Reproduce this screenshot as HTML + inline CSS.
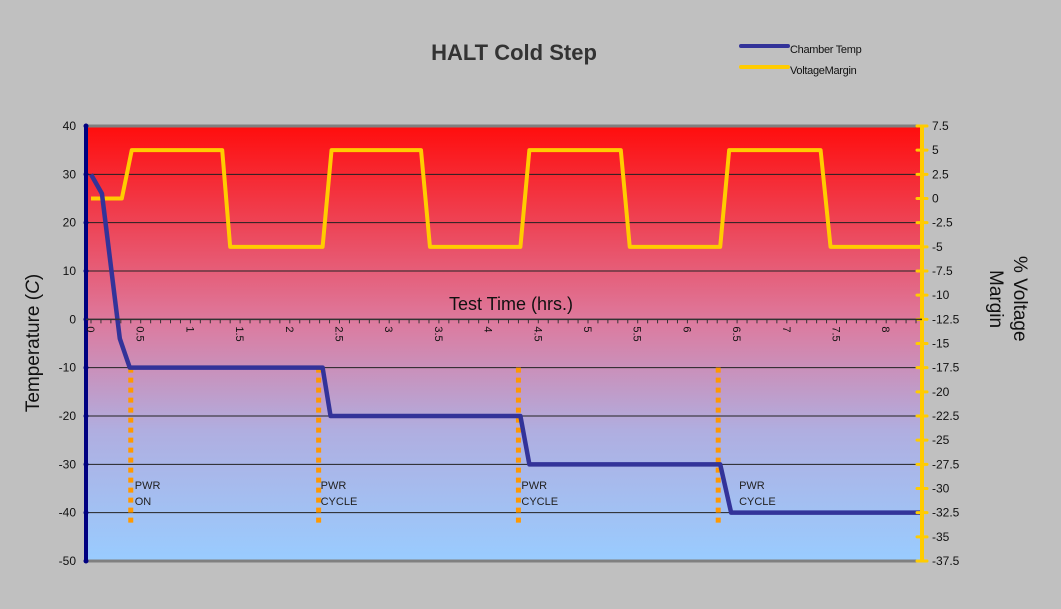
<!DOCTYPE html>
<html><head><meta charset="utf-8">
<style>
html,body{margin:0;padding:0;background:#c0c0c0;}
svg{display:block;font-family:"Liberation Sans",sans-serif;}
</style></head>
<body>
<svg id="chart" width="1061" height="609" viewBox="0 0 1061 609" xmlns="http://www.w3.org/2000/svg">
<defs>
<linearGradient id="bg" x1="0" y1="0" x2="0" y2="1">
<stop offset="0" stop-color="#ff0d0d"/>
<stop offset="0.45" stop-color="#dd7a9e"/>
<stop offset="0.7" stop-color="#b0aee0"/>
<stop offset="1" stop-color="#99ccff"/>
</linearGradient>
</defs>
<rect x="0" y="0" width="1061" height="609" fill="#c0c0c0"/>
<rect x="86" y="126" width="836" height="435" fill="url(#bg)"/>
<line x1="86" y1="126" x2="922" y2="126" stroke="#808080" stroke-width="3"/>
<line x1="86" y1="561" x2="922" y2="561" stroke="#808080" stroke-width="3"/>
<g id="grid"></g>
<g id="marks"></g>
<g id="axes"></g>
<text x="514" y="60" text-anchor="middle" font-size="22" font-weight="bold" fill="#333">HALT Cold Step</text>
<line x1="741" y1="46" x2="788" y2="46" stroke="#333399" stroke-width="4" stroke-linecap="round"/>
<text x="790" y="53" font-size="11" fill="#111" letter-spacing="-0.3">Chamber Temp</text>
<line x1="741" y1="67" x2="788" y2="67" stroke="#ffcc00" stroke-width="4" stroke-linecap="round"/>
<text x="790" y="74" font-size="11" fill="#111" letter-spacing="-0.3">VoltageMargin</text>
<text transform="translate(39,343) rotate(-90)" text-anchor="middle" font-size="19" fill="#111">Temperature (<tspan font-style="italic">C</tspan>)</text>
<text x="511" y="310" text-anchor="middle" font-size="18" fill="#111">Test Time (hrs.)</text>
<text transform="translate(1014,256) rotate(90)" font-size="19" fill="#111">% Voltage</text>
<text transform="translate(990,270) rotate(90)" font-size="19" fill="#111">Margin</text>
<script>
const timeTemp = [0, 0.11, 0.29, 0.39, 2.33, 2.41, 4.32, 4.41, 6.33, 6.44, 8.36];
const tempValues = [30, 26, -4, -10, -10, -20, -20, -30, -30, -40, -40];
const timeVolt = [0, 0.31, 0.41, 1.32, 1.40, 2.33, 2.42, 3.32, 3.41, 4.32, 4.41, 5.33, 5.42, 6.33, 6.42, 7.34, 7.44, 8.36];
const voltValues = [0, 0, 5, 5, -5, -5, 5, 5, -5, -5, 5, 5, -5, -5, 5, 5, -5, -5];
const eventTimes = [0.40, 2.29, 4.30, 6.31];
const eventLabels = [["PWR","ON"],["PWR","CYCLE"],["PWR","CYCLE"],["PWR","CYCLE"]];
const eventLabelTimes = [0.44, 2.31, 4.33, 6.52];
const leftTicks = [40,30,20,10,0,-10,-20,-30,-40,-50];
const rightTicks = [7.5,5,2.5,0,-2.5,-5,-7.5,-10,-12.5,-15,-17.5,-20,-22.5,-25,-27.5,-30,-32.5,-35,-37.5];
const xLabels = ["0","0.5","1","1.5","2","2.5","3","3.5","4","4.5","5","5.5","6","6.5","7","7.5","8"];

const NS="http://www.w3.org/2000/svg";
const xS = t => 91 + t*99.4;
const yL = v => 126 + (40 - v)*(435/90);
const yR = v => 126 + (7.5 - v)*(435/45);
function mk(tag, attrs, parent){const e=document.createElementNS(NS,tag);for(const k in attrs)e.setAttribute(k,attrs[k]);parent.appendChild(e);return e;}
const grid=document.getElementById('grid'), marks=document.getElementById('marks'), axes=document.getElementById('axes');

leftTicks.forEach(v=>{
  if(v<40 && v>-50){
    const g=mk('line',{x1:86,x2:922,y1:yL(v),y2:yL(v),stroke:'#222','stroke-width':1},grid);
    
    
  }
  const t=mk('text',{x:76,y:yL(v)+4,'text-anchor':'end','font-size':12,fill:'#111'},axes);
  t.textContent=v;
  
  
  const c=mk('circle',{cx:86,cy:yL(v),r:2.5,fill:'#000080'},axes);
  
  
});
const la=mk('line',{x1:86,x2:86,y1:126,y2:561,stroke:'#000080','stroke-width':4},axes);


const ra=mk('line',{x1:922,x2:922,y1:126,y2:561,stroke:'#ffcc00','stroke-width':4},axes);


rightTicks.forEach(v=>{
  const c=mk('line',{x1:917,x2:927,y1:yR(v),y2:yR(v),stroke:'#ffcc00','stroke-width':3,'stroke-linecap':'round'},axes);
  
  
  const t=mk('text',{x:932,y:yR(v)+4,'font-size':12,fill:'#111'},axes);
  t.textContent=(v>0?'':'')+v;
  
  
});
// x axis at temp 0
const xa=mk('line',{x1:86,x2:922,y1:yL(0),y2:yL(0),stroke:'#333','stroke-width':1.5},axes);


for(let i=0;i<=83;i++){
  const tk=mk('line',{x1:xS(i*0.1),x2:xS(i*0.1),y1:yL(0),y2:yL(0)+4,stroke:'#333','stroke-width':1},axes);
  
  
}
xLabels.forEach((s,i)=>{
  const x=xS(i*0.5);
  const t=mk('text',{transform:`translate(${x-4},${yL(0)+7}) rotate(90)`,'font-size':11,fill:'#111'},axes);
  t.textContent=s;
  
  
});
eventTimes.forEach((tm,i)=>{
  const l=mk('line',{x1:xS(tm),x2:xS(tm),y1:yL(-10),y2:yL(-42.5),stroke:'#ff9900','stroke-width':5,'stroke-dasharray':'5 5'},marks);
  
  
  eventLabels[i].forEach((s,j)=>{
    const t=mk('text',{x:xS(eventLabelTimes[i]),y:489+j*16,'font-size':11,fill:'#222'},marks);
    t.textContent=s;
    
    
  });
});
const vp=mk('polyline',{points:timeVolt.map((t,i)=>xS(t)+','+yR(voltValues[i])).join(' '),fill:'none',stroke:'#ffcc00','stroke-width':4,'stroke-linejoin':'round'},marks);


const tp=mk('polyline',{points:timeTemp.map((t,i)=>xS(t)+','+yL(tempValues[i])).join(' '),fill:'none',stroke:'#333399','stroke-width':4.5,'stroke-linejoin':'round'},marks);


</script>
</svg>
</body></html>
